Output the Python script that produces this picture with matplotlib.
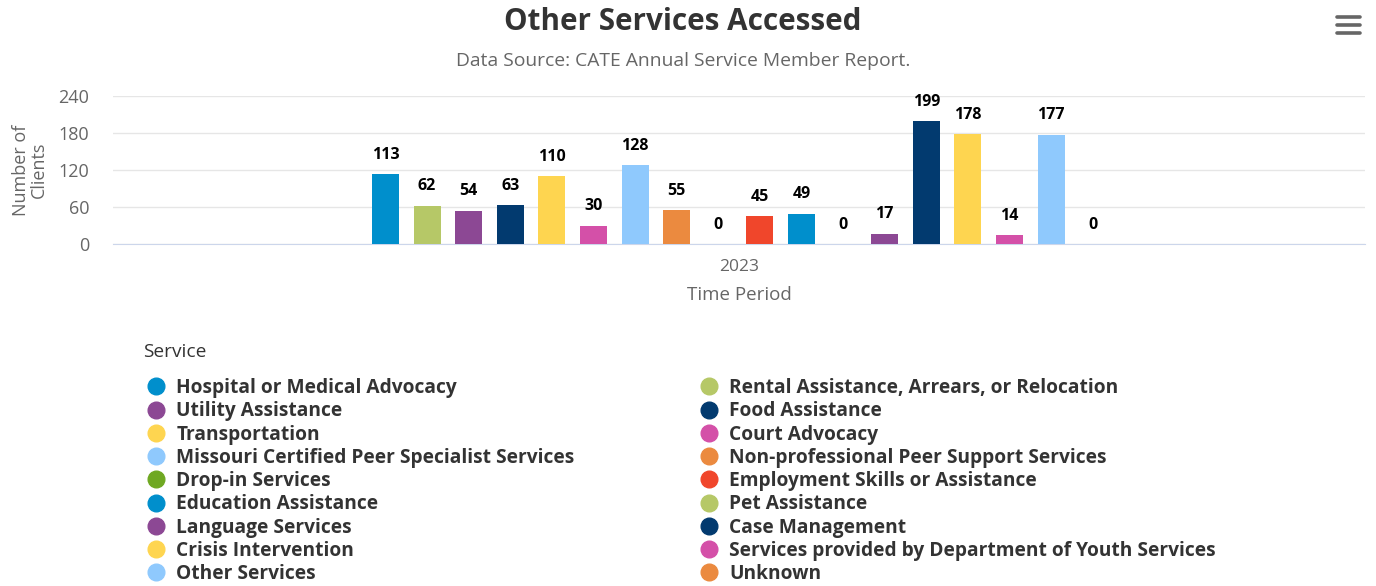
import numpy as np
import matplotlib.pyplot as plt
from matplotlib.lines import Line2D

plt.rcParams['font.family'] = ['Open Sans', 'DejaVu Sans']

services = [
    'Hospital or Medical Advocacy', 'Rental Assistance, Arrears, or Relocation',
    'Utility Assistance', 'Food Assistance',
    'Transportation', 'Court Advocacy',
    'Missouri Certified Peer Specialist Services', 'Non-professional Peer Support Services',
    'Drop-in Services', 'Employment Skills or Assistance',
    'Education Assistance', 'Pet Assistance',
    'Language Services', 'Case Management',
    'Crisis Intervention', 'Services provided by Department of Youth Services',
    'Other Services', 'Unknown',
]
clients = [113, 62, 54, 63, 110, 30, 128, 55, 0, 45, 49, 0, 17, 199, 178, 14, 177, 0]
colors = [
    '#008fcc', '#b6c867', '#8c4894', '#023a6f', '#fed550', '#d450a8',
    '#8fc9fd', '#eb8a3f', '#6fa822', '#f0462b', '#008fcc', '#b6c867',
    '#8c4894', '#023a6f', '#fed550', '#d450a8', '#8fc9fd', '#eb8a3f',
]
period = ['2023']
y_ticks = [0, 60, 120, 180, 240]

W, H = 1376, 586
fig = plt.figure(figsize=(W / 100, H / 100), dpi=100)
ax = fig.add_axes([113 / W, 1 - 244 / H, (1365 - 113) / W, 148 / H])

# grouped bars inside the single category
n = len(clients)
pitch = 41.6 / 1252
bar_w = 27 / 1252
xs = (np.arange(n) - (n - 1) / 2) * pitch
ax.bar(xs, clients, width=bar_w, color=colors, zorder=3)
for x, v in zip(xs, clients):
    ax.annotate(str(v), (x, v), xytext=(0, 14), textcoords='offset points',
                ha='center', va='center', fontsize=11.5, fontweight='bold', color='black')

ax.set_xlim(-0.5, 0.5)
ax.set_ylim(0, 240)
ax.set_yticks(y_ticks)
ax.set_xticks([0])
ax.set_xticklabels(period)
ax.grid(axis='y', color='#e6e6e6', lw=1, zorder=0)
for s in ['top', 'right', 'left']:
    ax.spines[s].set_visible(False)
ax.spines['bottom'].set_color('#ccd6eb')
ax.tick_params(axis='y', length=0, pad=17, labelsize=13, labelcolor='#666666')
ax.tick_params(axis='x', length=0, pad=11, labelsize=12.5, labelcolor='#666666')
ax.set_xlabel('Time Period', fontsize=13.5, color='#666666', labelpad=8)
ax.set_ylabel('Number of\nClients', fontsize=13, color='#666666', linespacing=0.95,
              va='center')
ax.yaxis.set_label_coords(-83 / 1252, 0.5)

fig.text(683 / W, 1 - 22 / H, 'Other Services Accessed', ha='center', va='center',
         fontsize=21.3, fontweight='bold', color='#333333')
fig.text(683 / W, 1 - 61 / H, 'Data Source: CATE Annual Service Member Report.',
         ha='center', va='center', fontsize=13.9, color='#666666')

# menu icon
for yy in [17, 25, 33]:
    fig.add_artist(Line2D([1337 / W, 1360 / W], [1 - yy / H, 1 - yy / H],
                          color='#666666', lw=2.6, solid_capstyle='round'))

# legend, row-major like the source
fig.text(143 / W, 1 - 352 / H, 'Service', ha='left', va='center', fontsize=13.8,
         color='#333333')
handles = [Line2D([], [], ls='', marker='o', markersize=12, color=c) for c in colors]
order = list(range(0, n, 2)) + list(range(1, n, 2))
fig.legend([handles[i] for i in order], [services[i] for i in order],
           loc='upper left', bbox_to_anchor=(147.4 / W, 1 - 378 / H), ncol=2,
           frameon=False, handlelength=0.9, handletextpad=0.6, labelspacing=0.17,
           columnspacing=6.57, borderpad=0, borderaxespad=0,
           prop={'size': 13.8, 'weight': 'bold'}, labelcolor='#333333')

fig.savefig('out.png', dpi=100)
